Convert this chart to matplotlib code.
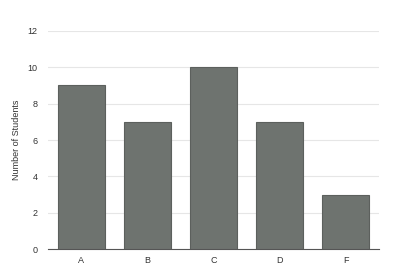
import matplotlib
matplotlib.use("Agg")
import matplotlib.pyplot as plt

grades = ["A", "B", "C", "D", "F"]
students = [9, 7, 10, 7, 3]
yticks = [0, 2, 4, 6, 8, 10, 12]

plt.rcParams['font.family'] = ['Liberation Sans', 'DejaVu Sans']
fig = plt.figure(figsize=(4.0, 2.74), dpi=100)
ax = fig.add_axes([0.12, 0.0912, 0.8275, 0.7957])
x = list(range(len(grades)))
ax.bar(x, students, width=0.71, color="#6e736f", edgecolor="#5c605d", linewidth=0.8, zorder=3)
ax.set_xlim(-0.5, len(grades) - 0.5)
ax.set_ylim(0, 12)
ax.set_yticks(yticks)
ax.set_xticks(x)
ax.set_xticklabels(grades)
ax.yaxis.grid(True, color="#e6e6e6", linewidth=0.8, zorder=0)
for s in ["top", "right", "left"]:
    ax.spines[s].set_visible(False)
ax.spines["bottom"].set_color("#555555")
ax.spines["bottom"].set_linewidth(0.8)
ax.tick_params(axis="both", length=0, labelsize=6.5, colors="#333333")
ax.tick_params(axis="y", pad=7.5)
ax.tick_params(axis="x", pad=5)
ax.set_ylabel("Number of Students", fontsize=6.5, color="#333333", labelpad=5)
fig.savefig("out.png", dpi=100)
